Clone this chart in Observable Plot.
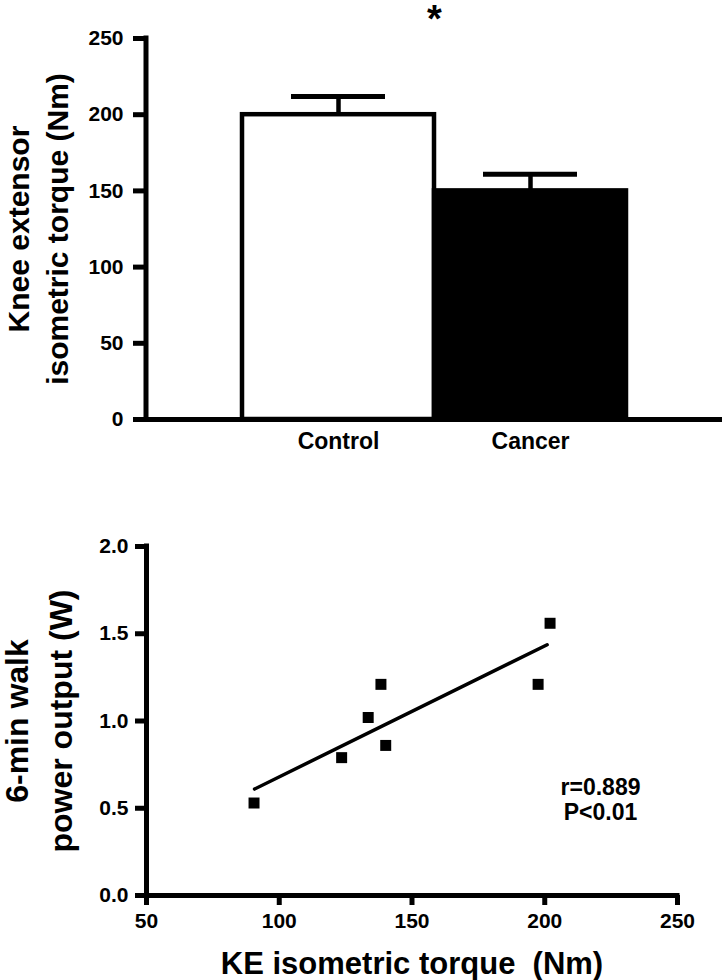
<!DOCTYPE html>
<html>
<head>
<meta charset="utf-8">
<script src="https://cdn.jsdelivr.net/npm/d3@7"></script>
<script src="https://cdn.jsdelivr.net/npm/@observablehq/plot@0.6"></script>
<style>
  body { margin: 0; background: #fff; }
  #chart { width: 722px; }
  #chart svg { display: block; overflow: visible; }
</style>
</head>
<body>
<div id="chart"></div>
<script>
// ---- Panel A: knee extensor isometric torque ----
const groups = ["Control", "Cancer"];
const torqueMean = [200, 150];
const torqueSEM = [12, 11];
const torqueTicks = [0, 50, 100, 150, 200, 250];
const topYTitle = ["Knee extensor\nisometric torque (Nm)"];
const significance = ["*"];

// ---- Panel B: 6-min walk power vs KE torque ----
const keTorque = [90.5, 123.5, 133.5, 138.3, 140.1, 197.5, 202.0];
const walkPower = [0.53, 0.79, 1.02, 1.21, 0.86, 1.21, 1.56];
const fitTorque = [90.7, 200.9];
const fitPower = [0.61, 1.437];
const powerTicks = [0, 0.5, 1.0, 1.5, 2.0];
const keTicks = [50, 100, 150, 200, 250];
const statsText = ["r=0.889\nP<0.01"];
const bottomXTitle = ["KE isometric torque  (Nm)"];
const bottomYTitle = ["6-min walk\npower output (W)"];

const font = "'Liberation Sans', Arial, Helvetica, sans-serif";
const baseStyle = {fontFamily: font, fontWeight: "bold", fontSize: "21px", color: "black", background: "white", overflow: "visible"};

// left axis line along the frame edge (render-function mark)
function leftAxisLine(width) {
  return (index, scales, values, dims) => {
    const g = d3.create("svg:g");
    g.append("line")
      .attr("x1", dims.marginLeft).attr("x2", dims.marginLeft)
      .attr("y1", dims.marginTop).attr("y2", dims.height - dims.marginBottom)
      .attr("stroke", "black").attr("stroke-width", width).attr("stroke-linecap", "square");
    return g.node();
  };
}

const bars = groups.map((g, i) => ({group: g, mean: torqueMean[i], top: torqueMean[i] + torqueSEM[i]}));

const topPlot = Plot.plot({
  width: 722,
  height: 460,
  marginLeft: 146,
  marginRight: 0,
  marginTop: 38,
  marginBottom: 41,
  style: baseStyle,
  x: {domain: groups, paddingInner: 0, paddingOuter: 0.5, label: null},
  y: {domain: [0, 250], label: null},
  color: {domain: groups, range: ["white", "black"]},
  marks: [
    Plot.barY(bars, {x: "group", y: "mean", fill: "group", stroke: "black", strokeWidth: 4.5}),
    Plot.ruleX(bars, {x: "group", y1: "mean", y2: "top", stroke: "black", strokeWidth: 4.5}),
    Plot.tickY(bars, {x: "group", y: "top", stroke: "black", strokeWidth: 5, insetLeft: 49, insetRight: 49}),
    Plot.ruleY([torqueTicks[0]], {stroke: "black", strokeWidth: 5}),
    leftAxisLine(5),
    Plot.axisY({ticks: torqueTicks, tickSize: 13, tickPadding: 10, strokeWidth: 5, fontSize: 21, label: null}),
    Plot.axisX({tickSize: 0, tickPadding: 13, fontSize: 23, label: null}),
    Plot.text(significance, {frameAnchor: "top", lineAnchor: "bottom", dy: -7, fontSize: 38}),
    Plot.text(topYTitle, {frameAnchor: "left", textAnchor: "middle", rotate: -90, lineAnchor: "bottom", dx: -79, lineHeight: 1.3, fontSize: 30})
  ]
});

const pts = keTorque.map((x, i) => ({x, y: walkPower[i]}));
const fit = fitTorque.map((x, i) => ({x, y: fitPower[i]}));

const bottomPlot = Plot.plot({
  width: 722,
  height: 520,
  marginLeft: 146,
  marginRight: 45,
  marginTop: 86,
  marginBottom: 85,
  style: baseStyle,
  x: {domain: [keTicks[0], keTicks[keTicks.length - 1]], label: null},
  y: {domain: [powerTicks[0], powerTicks[powerTicks.length - 1]], label: null},
  marks: [
    Plot.line(fit, {x: "x", y: "y", stroke: "black", strokeWidth: 3.5}),
    Plot.dot(pts, {x: "x", y: "y", symbol: "square", r: 6.2, fill: "black", stroke: "none"}),
    Plot.ruleY([powerTicks[0]], {stroke: "black", strokeWidth: 5, strokeLinecap: "square"}),
    Plot.ruleX([keTicks[0]], {stroke: "black", strokeWidth: 5, strokeLinecap: "square"}),
    Plot.axisY({ticks: powerTicks, tickFormat: d3.format(".1f"), tickSize: 11, tickPadding: 7, strokeWidth: 5, fontSize: 21, label: null}),
    Plot.axisX({ticks: keTicks, tickSize: 10, tickPadding: 8, strokeWidth: 5, fontSize: 21, label: null}),
    Plot.text(statsText, {x: 221, y: 0.43, lineAnchor: "bottom", lineHeight: 1.1, fontSize: 23}),
    Plot.text(bottomXTitle, {frameAnchor: "bottom", lineAnchor: "bottom", dy: 78, fontSize: 31}),
    Plot.text(bottomYTitle, {frameAnchor: "left", textAnchor: "middle", rotate: -90, lineAnchor: "bottom", dx: -75, lineHeight: 1.35, fontSize: 32})
  ]
});

const chart = document.getElementById("chart");
chart.appendChild(topPlot);
chart.appendChild(bottomPlot);
</script>
</body>
</html>
